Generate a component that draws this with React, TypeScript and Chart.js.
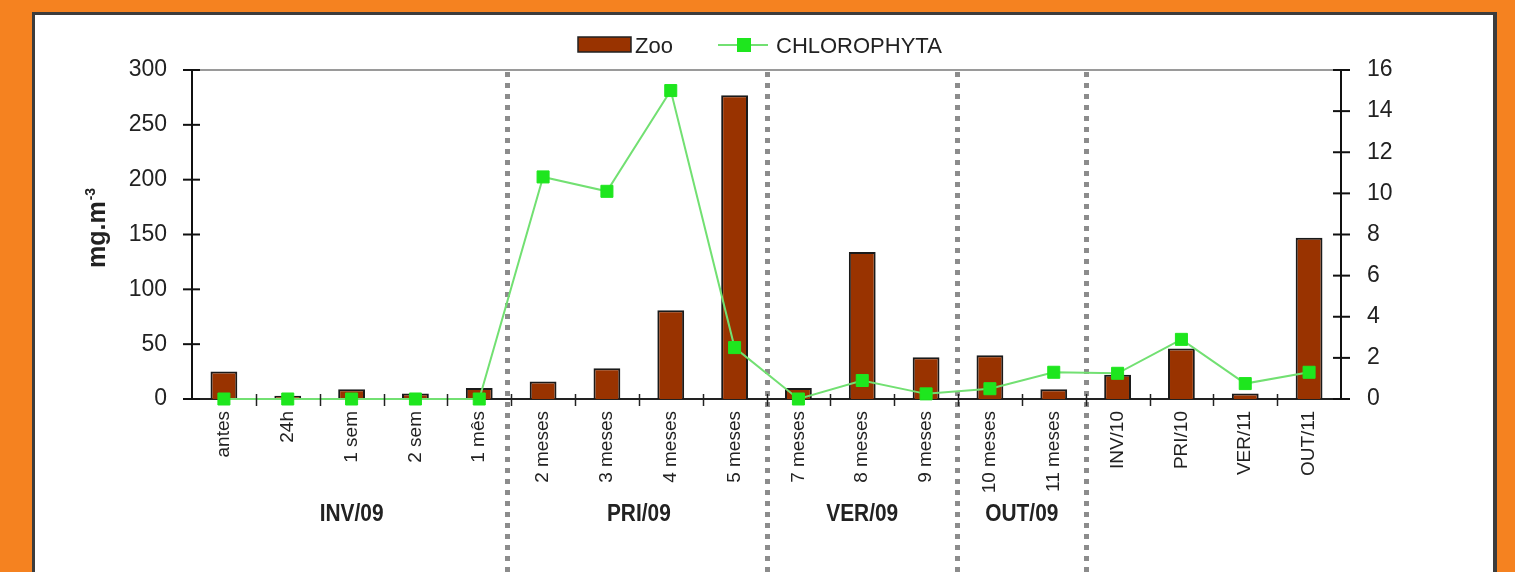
import { useEffect, useRef } from "react";
import { Chart, registerables } from "chart.js";

Chart.register(...registerables);

const categories = [
  "antes", "24h", "1 sem", "2 sem", "1 mês",
  "2 meses", "3 meses", "4 meses", "5 meses",
  "7 meses", "8 meses", "9 meses",
  "10 meses", "11 meses",
  "INV/10", "PRI/10", "VER/11", "OUT/11",
];
const zooValues = [25, 3, 9, 5, 10, 16, 28, 81, 277, 10, 134, 38, 40, 9, 22, 46, 5, 147];
const chlorophytaValues = [0, 0, 0, 0, 0, 10.8, 10.1, 15, 2.5, 0, 0.9, 0.25, 0.5, 1.3, 1.25, 2.9, 0.75, 1.3];
const leftAxisRange = [0, 300, 50];
const rightAxisRange = [0, 16, 2];
const groupLabels = ["INV/09", "PRI/09", "VER/09", "OUT/09"];
const groupCenters = [2, 6.5, 10, 12.5];
const dividerPositions = [4.43, 8.5, 11.48, 13.5];
const seriesNames = ["Zoo", "CHLOROPHYTA"];
const yTitle = "mg.m";
const yTitleSup = "-3";

const FONT = "'Liberation Sans', Arial, Helvetica, sans-serif";
const ORANGE = "#f58220";
const BAR = "#993300";
const LINE = "#72e072";
const MARK = "#1ee61e";
const TEXT = "#222222";

const decorPlugin = {
  id: "decor",
  beforeDraw(chart: any) {
    const ctx = chart.ctx;
    const W = chart.width;
    const H = chart.height;
    ctx.save();
    ctx.fillStyle = ORANGE;
    ctx.fillRect(0, 0, W, H);
    ctx.fillStyle = "#3c3c3c";
    ctx.fillRect(32, 12, 1465, H);
    ctx.fillStyle = "#ffffff";
    ctx.fillRect(35, 15, 1458, H);
    ctx.restore();
  },
  beforeDatasetsDraw(chart: any) {
    const ctx = chart.ctx;
    const x = chart.scales.x;
    const top = chart.chartArea.top;
    ctx.save();
    ctx.strokeStyle = "#8c8c8c";
    ctx.lineWidth = 5;
    ctx.setLineDash([5, 6]);
    for (const v of dividerPositions) {
      const px = Math.round(x.getPixelForValue(v)) + 0.5;
      ctx.beginPath();
      ctx.moveTo(px, top + 2);
      ctx.lineTo(px, chart.height);
      ctx.stroke();
    }
    ctx.restore();
  },
  afterDraw(chart: any) {
    const ctx = chart.ctx;
    const { left, right, top, bottom } = chart.chartArea;
    const x = chart.scales.x;
    const y = chart.scales.y;
    const y1 = chart.scales.y1;
    ctx.save();
    ctx.strokeStyle = "#9a9a9a";
    ctx.lineWidth = 2;
    ctx.beginPath();
    ctx.moveTo(left, top);
    ctx.lineTo(right, top);
    ctx.stroke();

    ctx.strokeStyle = "#111111";
    ctx.lineWidth = 2;
    for (const t of y.ticks) {
      const py = y.getPixelForValue(t.value);
      ctx.beginPath();
      ctx.moveTo(left - 9, py);
      ctx.lineTo(left + 8, py);
      ctx.stroke();
    }
    for (const t of y1.ticks) {
      const py = y1.getPixelForValue(t.value);
      ctx.beginPath();
      ctx.moveTo(right - 8, py);
      ctx.lineTo(right + 9, py);
      ctx.stroke();
    }
    ctx.lineWidth = 1.5;
    ctx.strokeStyle = "#222222";
    for (let k = 1; k < categories.length; k++) {
      const px = Math.round(x.getPixelForValue(k - 0.5)) + 0.5;
      ctx.beginPath();
      ctx.moveTo(px, bottom - 5);
      ctx.lineTo(px, bottom + 7);
      ctx.stroke();
    }

    ctx.fillStyle = TEXT;
    ctx.save();
    ctx.translate(105, 268);
    ctx.rotate(-Math.PI / 2);
    ctx.font = `bold 25px ${FONT}`;
    ctx.textAlign = "left";
    ctx.textBaseline = "alphabetic";
    ctx.fillText(yTitle, 0, 0);
    const w1 = ctx.measureText(yTitle).width;
    ctx.font = `bold 14px ${FONT}`;
    ctx.fillText(yTitleSup, w1 + 1, -10);
    ctx.restore();

    ctx.font = `bold 24px ${FONT}`;
    ctx.textAlign = "center";
    ctx.textBaseline = "alphabetic";
    groupLabels.forEach((lab, i) => {
      const cx = x.getPixelForValue(groupCenters[i]);
      ctx.save();
      ctx.translate(cx, 521);
      ctx.scale(0.87, 1);
      ctx.fillText(lab, 0, 0);
      ctx.restore();
    });

    ctx.fillStyle = BAR;
    ctx.fillRect(578, 37, 53, 15);
    ctx.strokeStyle = "#222222";
    ctx.lineWidth = 1.5;
    ctx.strokeRect(578, 37, 53, 15);
    ctx.fillStyle = TEXT;
    ctx.font = `22px ${FONT}`;
    ctx.textAlign = "left";
    ctx.fillText(seriesNames[0], 635, 53);
    ctx.strokeStyle = LINE;
    ctx.lineWidth = 2;
    ctx.beginPath();
    ctx.moveTo(718, 45);
    ctx.lineTo(768, 45);
    ctx.stroke();
    ctx.fillStyle = MARK;
    ctx.fillRect(737, 38, 14, 14);
    ctx.fillStyle = TEXT;
    ctx.fillText(seriesNames[1], 776, 53);
    ctx.restore();
  },
};

export default function App() {
  const ref = useRef<HTMLCanvasElement | null>(null);

  useEffect(() => {
    const canvas = ref.current;
    if (!canvas) return;
    const chart = new Chart(canvas, {
      type: "bar",
      data: {
        labels: categories,
        datasets: [
          {
            type: "bar",
            label: seriesNames[0],
            data: zooValues,
            backgroundColor: BAR,
            borderColor: "#1a1a1a",
            borderWidth: 2,
            barPercentage: 0.42,
            categoryPercentage: 1,
            yAxisID: "y",
            order: 2,
          },
          {
            type: "line",
            label: seriesNames[1],
            data: chlorophytaValues,
            borderColor: LINE,
            borderWidth: 2,
            pointStyle: "rect",
            pointRadius: 8.5,
            pointBackgroundColor: MARK,
            pointBorderColor: MARK,
            pointBorderWidth: 1,
            tension: 0,
            clip: false,
            yAxisID: "y1",
            order: 1,
          } as any,
        ],
      },
      options: {
        responsive: false,
        animation: false,
        events: [],
        layout: { padding: { top: 70, left: 0, right: 0, bottom: 0 } },
        plugins: {
          legend: { display: false },
          tooltip: { enabled: false },
          title: { display: false },
        },
        scales: {
          x: {
            type: "category",
            offset: true,
            grid: { display: false, drawTicks: false },
            border: { display: true, color: "#222222", width: 2 },
            ticks: {
              autoSkip: false,
              minRotation: 90,
              maxRotation: 90,
              padding: 12,
              color: TEXT,
              font: { family: FONT, size: 19 },
            },
            afterFit(scale: any) {
              scale.height = 173;
            },
          },
          y: {
            position: "left",
            min: leftAxisRange[0],
            max: leftAxisRange[1],
            grid: { display: false, drawTicks: false },
            border: { display: true, color: "#111111", width: 2 },
            ticks: {
              stepSize: leftAxisRange[2],
              padding: 25,
              color: TEXT,
              font: { family: FONT, size: 23 },
            },
            afterFit(scale: any) {
              scale.width = 192;
            },
          },
          y1: {
            position: "right",
            min: rightAxisRange[0],
            max: rightAxisRange[1],
            grid: { display: false, drawTicks: false },
            border: { display: true, color: "#111111", width: 2 },
            ticks: {
              stepSize: rightAxisRange[2],
              padding: 26,
              color: TEXT,
              font: { family: FONT, size: 23 },
            },
            afterFit(scale: any) {
              scale.width = 174;
            },
          },
        },
      },
      plugins: [decorPlugin],
    });
    return () => chart.destroy();
  }, []);

  return (
    <div style={{ position: "fixed", left: 0, top: 0, width: 1515, height: 572 }}>
      <canvas ref={ref} width={1515} height={572} style={{ display: "block" }} />
    </div>
  );
}
